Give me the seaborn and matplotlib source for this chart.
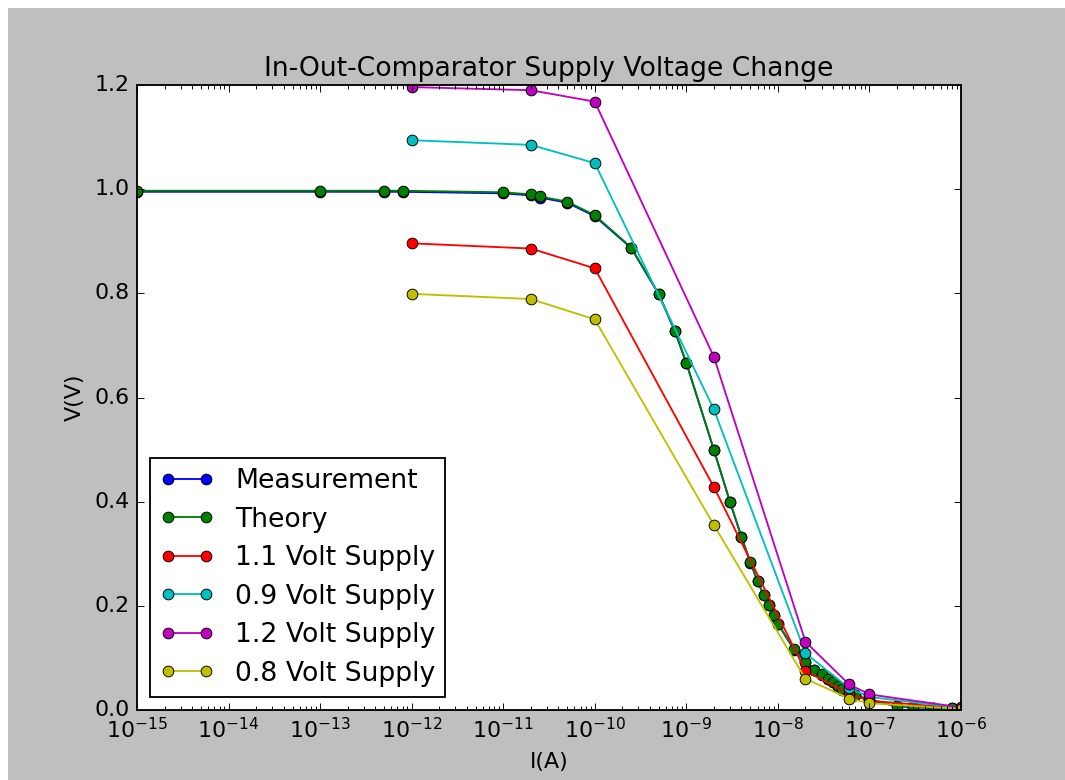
import matplotlib
matplotlib.use("Agg")
import matplotlib.pyplot as plt
from matplotlib.patches import Rectangle
import numpy as np
import pandas as pd
import seaborn as sns

# Current sweep (A) for the reference curves
theory_i = [1e-15, 1e-13, 5e-13, 8e-13, 1e-11, 2e-11, 2.5e-11, 5e-11, 1e-10,
            2.5e-10, 5e-10, 7.5e-10, 1e-9, 2e-9, 3e-9, 4e-9, 5e-9, 6e-9, 7e-9,
            8e-9, 9e-9, 1e-8, 1.5e-8, 2e-8, 2.5e-8, 3e-8, 3.5e-8, 4e-8, 4.5e-8,
            5e-8, 6e-8, 7e-8, 1e-7, 2e-7, 3e-7, 5e-7, 8e-7, 1e-6]
theory_v = [0.997, 0.997, 0.997, 0.997, 0.994, 0.990, 0.986, 0.976, 0.950,
            0.888, 0.799, 0.728, 0.667, 0.500, 0.400, 0.333, 0.284, 0.248, 0.221,
            0.202, 0.182, 0.166, 0.117, 0.093, 0.077, 0.069, 0.060, 0.054, 0.046,
            0.040, 0.034, 0.029, 0.020, 0.008, 0.006, 0.004, 0.003, 0.003]
measurement_i = theory_i
measurement_v = [0.995, 0.995, 0.995, 0.995, 0.992, 0.988, 0.984, 0.974, 0.948,
                 0.887, 0.798, 0.727, 0.666, 0.499, 0.399, 0.332, 0.283, 0.247, 0.220,
                 0.201, 0.181, 0.165, 0.116, 0.092, 0.076, 0.068, 0.059, 0.053, 0.045,
                 0.039, 0.033, 0.028, 0.019, 0.007, 0.005, 0.004, 0.003, 0.003]

# Supply-voltage variations
supply_i = [1e-12, 2e-11, 1e-10, 2e-9, 2e-8, 6e-8, 1e-7, 1e-6]
supply_1v1 = [0.896, 0.886, 0.848, 0.428, 0.075, 0.031, 0.018, 0.003]
supply_0v9 = [1.094, 1.085, 1.050, 0.577, 0.109, 0.042, 0.025, 0.004]
supply_1v2 = [1.196, 1.190, 1.168, 0.678, 0.131, 0.049, 0.030, 0.005]
supply_0v8 = [0.799, 0.789, 0.750, 0.355, 0.060, 0.022, 0.013, 0.002]

series_names = ["Measurement", "Theory", "1.1 Volt Supply", "0.9 Volt Supply",
                "1.2 Volt Supply", "0.8 Volt Supply"]
series_data = [(measurement_i, measurement_v), (theory_i, theory_v),
               (supply_i, supply_1v1), (supply_i, supply_0v9),
               (supply_i, supply_1v2), (supply_i, supply_0v8)]
series_colors = ["#0000ff", "#008000", "#ff0000", "#00bfbf", "#bf00bf", "#bfbf00"]

frames = []
for name, (xs, ys) in zip(series_names, series_data):
    frames.append(pd.DataFrame({"I": xs, "V": ys, "series": name}))
df = pd.concat(frames, ignore_index=True)

plt.style.use("classic")
plt.rcParams["font.family"] = ["DejaVu Sans"]

fig = plt.figure(figsize=(1065 / 133, 780 / 133), dpi=133)
fig.patch.set_facecolor("#bfbfbf")
fig.patches.append(Rectangle((0, 1 - 8 / 780), 1, 8 / 780, transform=fig.transFigure,
                             facecolor="white", edgecolor="none", zorder=-1))
fig.patches.append(Rectangle((0, 0), 8 / 1065, 1, transform=fig.transFigure,
                             facecolor="white", edgecolor="none", zorder=-1))

ax = fig.add_axes([137 / 1065, 70 / 780, 824 / 1065, 625 / 780])

sns.lineplot(data=df, x="I", y="V", hue="series", hue_order=series_names,
             palette=series_colors, marker="o", markersize=5.8,
             markeredgecolor="k", markeredgewidth=0.5, linewidth=1.0,
             estimator=None, errorbar=None, sort=False, legend=False, ax=ax)

ax.set_xscale("log")
ax.set_xlim(1e-15, 1e-6)
ax.set_ylim(0.0, 1.2)
ax.set_yticks(np.arange(0.0, 1.21, 0.2))
ax.set_xlabel("I(A)")
ax.set_ylabel("V(V)")
ax.set_title("In-Out-Comparator Supply Voltage Change", fontsize=14.4)

handles = ax.get_lines()[:len(series_names)]
ax.legend(handles, series_names, loc="lower left", numpoints=2, fontsize=14.4,
          fancybox=False, labelspacing=0.47, borderpad=0.38)

fig.savefig("out.png", dpi=133, facecolor=fig.get_facecolor())
